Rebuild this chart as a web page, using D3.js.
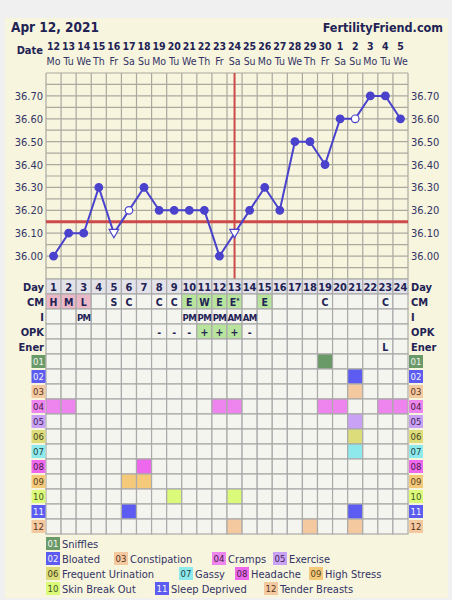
<!DOCTYPE html>
<html>
  <head>
    <meta charset="utf-8">
    <title>Fertility chart</title>
    <script src="https://cdn.jsdelivr.net/npm/d3@7"></script>
    <style>
      body {
        margin: 0;
        background: #f0f0f0;
      }
      svg text {
        font-family: "DejaVu Sans Condensed", "DejaVu Sans", Verdana, sans-serif;
        fill: #222255;
      }
    </style>
  </head>
  <body>
    <div id="chart"></div>
    <script>
      // chart data
      var dates = [12, 13, 14, 15, 16, 17, 18, 19, 20, 21, 22, 23, 24, 25, 26, 27, 28, 29, 30, 1, 2, 3, 4, 5];
      var weekdays = ["Mo", "Tu", "We", "Th", "Fr", "Sa", "Su", "Mo", "Tu", "We", "Th", "Fr",
                      "Sa", "Su", "Mo", "Tu", "We", "Th", "Fr", "Sa", "Su", "Mo", "Tu", "We"];
      var temps = [36.00, 36.10, 36.10, 36.30, 36.10, 36.20, 36.30, 36.20, 36.20, 36.20, 36.20, 36.00,
                   36.10, 36.20, 36.30, 36.20, 36.50, 36.50, 36.40, 36.60, 36.60, 36.70, 36.70, 36.60];
      // f = filled, o = open circle, t = open triangle
      var markers = ["f", "f", "f", "f", "t", "o", "f", "f", "f", "f", "f", "f",
                     "t", "f", "f", "f", "f", "f", "f", "f", "o", "f", "f", "f"];
      var tempTicks = [36.00, 36.10, 36.20, 36.30, 36.40, 36.50, 36.60, 36.70];
      var coverline = 36.15;
      var ovulationDay = 13;

      var cm = ["H", "M", "L", "", "S", "C", "", "C", "C", "E", "W", "E", "E*", "", "E", "", "", "", "C", "", "", "", "C", ""];
      var intercourse = ["", "", "PM", "", "", "", "", "", "", "PM", "PM", "PM", "AM", "AM", "", "", "", "", "", "", "", "", "", ""];
      var opk = ["", "", "", "", "", "", "", "-", "-", "-", "+", "+", "+", "-", "", "", "", "", "", "", "", "", "", ""];
      var energy = ["", "", "", "", "", "", "", "", "", "", "", "", "", "", "", "", "", "", "", "", "", "", "L", ""];

      var symptomCodes = ["01", "02", "03", "04", "05", "06", "07", "08", "09", "10", "11", "12"];
      var symptomNames = ["Sniffles", "Bloated", "Constipation", "Cramps", "Exercise", "Frequent Urination",
                          "Gassy", "Headache", "High Stress", "Skin Break Out", "Sleep Deprived", "Tender Breasts"];
      var symptomDays = [[19], [21], [21], [1, 2, 12, 13, 19, 20, 23, 24], [21], [21], [21], [7], [6, 7], [9, 13], [6, 21], [13, 18, 21]];
      var symptomColors = ["#6b9a69", "#5c5cf2", "#f5c9a0", "#ee84ee", "#c9a2f5", "#dcdc7a", "#8ee9ec",
                           "#ee68ee", "#f5c97a", "#dcfa7a", "#5c5cf2", "#f5c9a0"];
      var symptomLabelInk = ["#f4f4f4", "#f4f4f4", "#553322", "#442244", "#442255", "#444422", "#224444",
                             "#442244", "#554422", "#445522", "#f4f4f4", "#553322"];

      // legend layout: rows of symptom indices and their x positions
      var legendRows = [[0], [1, 2, 3, 4], [5, 6, 7, 8], [9, 10, 11]];
      var legendX = [[46], [46, 114, 212, 273], [46, 179, 235, 309], [46, 155, 264]];

      var width = 452, height = 600;
      var plotLeft = 46, plotRight = 408, plotTop = 73, plotBottom = 279;
      var rowH = 15;

      var svg = d3.select("#chart").append("svg")
        .attr("width", width)
        .attr("height", height)
        .style("display", "block");

      svg.append("rect")
        .attr("x", 5).attr("y", 18)
        .attr("width", 443).attr("height", 580)
        .attr("fill", "#f7f5dd");

      var x = d3.scaleBand()
        .domain(d3.range(1, 25))
        .range([plotLeft, plotRight]);

      var y = d3.scaleLinear()
        .domain([35.9, 36.8])
        .range([plotBottom, plotTop]);

      var cx = function(d) { return x(d) + x.bandwidth() / 2; };

      // header
      svg.append("text")
        .attr("x", 11).attr("y", 32)
        .style("font-size", "13.5px").style("font-weight", "bold")
        .text("Apr 12, 2021");
      svg.append("text")
        .attr("x", 443).attr("y", 32)
        .attr("text-anchor", "end")
        .style("font-size", "12.5px").style("font-weight", "bold")
        .text("FertilityFriend.com");

      svg.append("text")
        .attr("x", 43).attr("y", 54)
        .attr("text-anchor", "end")
        .style("font-size", "11px").style("font-weight", "bold")
        .text("Date");

      svg.append("g").selectAll("text")
        .data(dates)
        .join("text")
        .attr("x", function(d, i) { return cx(i + 1); })
        .attr("y", 50)
        .attr("text-anchor", "middle")
        .style("font-size", "10.5px").style("font-weight", "bold")
        .text(function(d) { return d; });

      svg.append("g").selectAll("text")
        .data(weekdays)
        .join("text")
        .attr("x", function(d, i) { return cx(i + 1); })
        .attr("y", 65)
        .attr("text-anchor", "middle")
        .style("font-size", "10.5px")
        .style("fill", "#333366")
        .text(function(d) { return d; });

      // temperature grid
      var grid = svg.append("g")
        .attr("stroke", "#aaa9a0")
        .attr("stroke-width", 1.2);
      grid.selectAll("line.v")
        .data(d3.range(1, 26))
        .join("line")
        .attr("class", "v")
        .attr("x1", function(d) { return d < 25 ? x(d) : plotRight; })
        .attr("x2", function(d) { return d < 25 ? x(d) : plotRight; })
        .attr("y1", plotTop).attr("y2", plotBottom);
      grid.selectAll("line.h")
        .data(d3.range(0, 19))
        .join("line")
        .attr("class", "h")
        .attr("x1", plotLeft).attr("x2", plotRight)
        .attr("y1", function(d) { return y(35.9 + d * 0.05); })
        .attr("y2", function(d) { return y(35.9 + d * 0.05); });

      // y labels, both sides
      svg.append("g").selectAll("text")
        .data(tempTicks)
        .join("text")
        .attr("x", 43)
        .attr("y", function(d) { return y(d) + 4; })
        .attr("text-anchor", "end")
        .style("font-size", "11px")
        .style("fill", "#333366")
        .text(function(d) { return d.toFixed(2); });
      svg.append("g").selectAll("text")
        .data(tempTicks)
        .join("text")
        .attr("x", 411)
        .attr("y", function(d) { return y(d) + 4; })
        .style("font-size", "11px")
        .style("fill", "#333366")
        .text(function(d) { return d.toFixed(2); });

      // coverline and ovulation line
      svg.append("line")
        .attr("x1", plotLeft).attr("x2", plotRight)
        .attr("y1", y(coverline)).attr("y2", y(coverline))
        .attr("stroke", "#cc4a4a").attr("stroke-width", 3);
      svg.append("line")
        .attr("x1", cx(ovulationDay)).attr("x2", cx(ovulationDay))
        .attr("y1", plotTop).attr("y2", plotBottom)
        .attr("stroke", "#cc4a4a").attr("stroke-width", 2);

      // temperature line and points
      var lineColor = "#4a42cc";
      var line = d3.line()
        .x(function(d, i) { return cx(i + 1); })
        .y(function(d) { return y(d); });
      svg.append("path")
        .datum(temps)
        .attr("d", line)
        .attr("fill", "none")
        .attr("stroke", lineColor)
        .attr("stroke-width", 2);

      var pts = svg.append("g");
      temps.forEach(function(t, i) {
        var px = cx(i + 1), py = y(t);
        if (markers[i] === "t") {
          pts.append("path")
            .attr("d", d3.symbol().type(d3.symbolTriangle).size(40)())
            .attr("transform", "translate(" + px + "," + (py - 1) + ") rotate(180)")
            .attr("fill", "#fff").attr("stroke", lineColor).attr("stroke-width", 1.2);
        } else {
          pts.append("circle")
            .attr("cx", px).attr("cy", py).attr("r", 3.8)
            .attr("fill", markers[i] === "o" ? "#fff" : lineColor)
            .attr("stroke", lineColor).attr("stroke-width", 1.2);
        }
      });

      // table rows
      var textRows = [
        { label: "Day", values: d3.range(1, 25) },
        { label: "CM", values: cm },
        { label: "I", values: intercourse },
        { label: "OPK", values: opk },
        { label: "Ener", values: energy }
      ];

      var cellFill = function(r, v) {
        if (r === 0) return "#e2e2e8";
        if (r === 1 && (v === "H" || v === "M" || v === "L")) return "#eab8c6";
        if (r === 1 && (v === "E" || v === "W" || v === "E*")) return "#b9e49e";
        if (r === 3 && v === "+") return "#b9e49e";
        return "#f5f5f0";
      };

      var table = svg.append("g");
      textRows.forEach(function(row, r) {
        var ry = plotBottom + r * rowH;
        table.append("g").selectAll("rect")
          .data(row.values)
          .join("rect")
          .attr("x", function(d, i) { return x(i + 1); })
          .attr("y", ry)
          .attr("width", x.bandwidth()).attr("height", rowH)
          .attr("fill", function(d) { return cellFill(r, d); })
          .attr("stroke", "#aaaaaa").attr("stroke-width", 1.2);
        table.append("g").selectAll("text")
          .data(row.values)
          .join("text")
          .attr("x", function(d, i) { return cx(i + 1); })
          .attr("y", ry + 11.5)
          .attr("text-anchor", "middle")
          .style("font-size", r === 0 ? "11px" : (r === 2 ? "9.5px" : "10.5px"))
          .style("font-weight", "bold")
          .style("letter-spacing", r === 2 ? "-0.6px" : "0")
          .each(function(d) {
            var t = d3.select(this);
            if (typeof d === "string" && d.slice(-1) === "*") {
              t.append("tspan").text(d.slice(0, -1));
              t.append("tspan").attr("dy", -3).style("font-size", "7px").text("*");
            } else {
              t.text(d);
            }
          });
        table.append("text")
          .attr("x", 44).attr("y", ry + 11.5)
          .attr("text-anchor", "end")
          .style("font-size", "11px").style("font-weight", "bold")
          .text(row.label);
        table.append("text")
          .attr("x", 411).attr("y", ry + 11.5)
          .style("font-size", "11px").style("font-weight", "bold")
          .text(row.label);
      });

      // symptom grid
      var symTop = plotBottom + textRows.length * rowH;
      symptomCodes.forEach(function(code, s) {
        var ry = symTop + s * rowH;
        var days = symptomDays[s];
        table.append("g").selectAll("rect")
          .data(d3.range(1, 25))
          .join("rect")
          .attr("x", function(d) { return x(d); })
          .attr("y", ry)
          .attr("width", x.bandwidth()).attr("height", rowH)
          .attr("fill", function(d) { return days.indexOf(d) >= 0 ? symptomColors[s] : "#f5f5f0"; })
          .attr("stroke", "#aaaaaa").attr("stroke-width", 1.2);
        [31.5, 409].forEach(function(lx) {
          table.append("rect")
            .attr("x", lx).attr("y", ry + 1)
            .attr("width", 14).attr("height", 13)
            .attr("fill", symptomColors[s]);
          table.append("text")
            .attr("x", lx + 7).attr("y", ry + 11)
            .attr("text-anchor", "middle")
            .style("font-size", "9.5px")
            .style("fill", symptomLabelInk[s])
            .text(code);
        });
      });

      // legend
      var legend = svg.append("g");
      legendRows.forEach(function(row, r) {
        var ly = 537 + r * 15;
        row.forEach(function(s, k) {
          var lx = legendX[r][k];
          legend.append("rect")
            .attr("x", lx).attr("y", ly)
            .attr("width", 14).attr("height", 13)
            .attr("fill", symptomColors[s]);
          legend.append("text")
            .attr("x", lx + 7).attr("y", ly + 10)
            .attr("text-anchor", "middle")
            .style("font-size", "9.5px")
            .style("fill", symptomLabelInk[s])
            .text(symptomCodes[s]);
          legend.append("text")
            .attr("x", lx + 16).attr("y", ly + 10.5)
            .style("font-size", "11px")
            .style("fill", "#333366")
            .text(symptomNames[s]);
        });
      });
    </script>
  </body>
</html>
